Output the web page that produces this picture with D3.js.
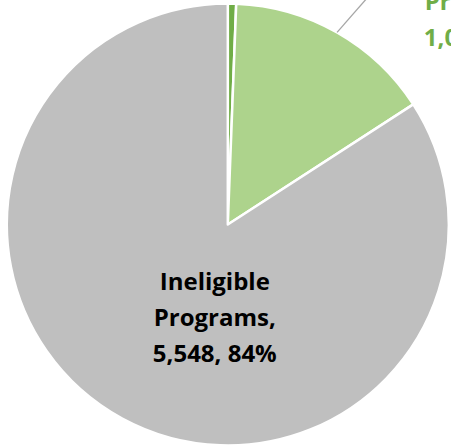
<!DOCTYPE html>
<html>
<head>
<meta charset="utf-8">
<script src="https://cdn.jsdelivr.net/npm/d3@7"></script>
<style>
  html, body { margin: 0; padding: 0; background: #fff; overflow: hidden; }
  svg { display: block; font-family: "Open Sans", sans-serif; }
</style>
</head>
<body>
<div id="chart-area"></div>
<script>
const WIDTH = 451;
const HEIGHT = 447;
const CENTER = { X: 227.8, Y: 224.5 };
const RADIUS = 221;

// data (clockwise from 12 o'clock)
const categories = ["Other Programs", "Eligible Programs", "Ineligible Programs"];
const values = [40, 1005, 5548];
const colors = ["#70AD47", "#ADD38C", "#BFBFBF"];
const labelColors = ["#70AD47", "#70AD47", "#000000"];

const total = d3.sum(values);
const fmtNum = d3.format(",");
const pct = (v) => `${Math.round((v / total) * 100)}%`;

const svg = d3
  .select("#chart-area")
  .append("svg")
  .attr("width", WIDTH)
  .attr("height", HEIGHT);

const g = svg
  .append("g")
  .attr("transform", `translate(${CENTER.X}, ${CENTER.Y})`);

const pie = d3.pie().sort(null).value((d) => d.value);
const arc = d3.arc().innerRadius(0).outerRadius(RADIUS);
const edgeArc = d3.arc().innerRadius(RADIUS).outerRadius(RADIUS);

const data = pie(
  categories.map((c, i) => ({ name: c, value: values[i], color: colors[i] }))
);

// slices
g.selectAll("path.slice")
  .data(data)
  .enter()
  .append("path")
  .attr("class", "slice")
  .attr("d", arc)
  .attr("fill", (d) => d.data.color)
  .attr("stroke", "#fff")
  .attr("stroke-width", 2.5)
  .attr("stroke-linejoin", "round");

// label lines: name split in two, then "value, percent"
function labelLines(d) {
  const parts = d.data.name.split(" ");
  return [parts[0], parts.slice(1).join(" ") + ",", `${fmtNum(d.data.value)}, ${pct(d.data.value)}`];
}

const LINE_H = 36;

function addLabel(d, x, y, color) {
  g.append("text")
    .attr("x", x)
    .attr("y", y)
    .attr("text-anchor", "middle")
    .attr("font-size", "24px")
    .attr("font-weight", 700)
    .attr("fill", color)
    .selectAll("tspan")
    .data(labelLines(d))
    .enter()
    .append("tspan")
    .attr("x", x)
    .attr("dy", (t, i) => (i === 0 ? 0 : LINE_H))
    .text((t) => t);
}

// inside label for the big slice
addLabel(data[2], -13, 65, labelColors[2]);

// outside label for the light green slice, with leader line
const p0 = edgeArc.centroid(data[1]);
const p1 = [p0[0] + 56, p0[1] - 64];
g.append("line")
  .attr("x1", p0[0])
  .attr("y1", p0[1])
  .attr("x2", p1[0])
  .attr("y2", p1[1])
  .attr("stroke", "#A6A6A6")
  .attr("stroke-width", 1.3);

addLabel(data[1], 258, -251, labelColors[1]);
</script>
</body>
</html>
